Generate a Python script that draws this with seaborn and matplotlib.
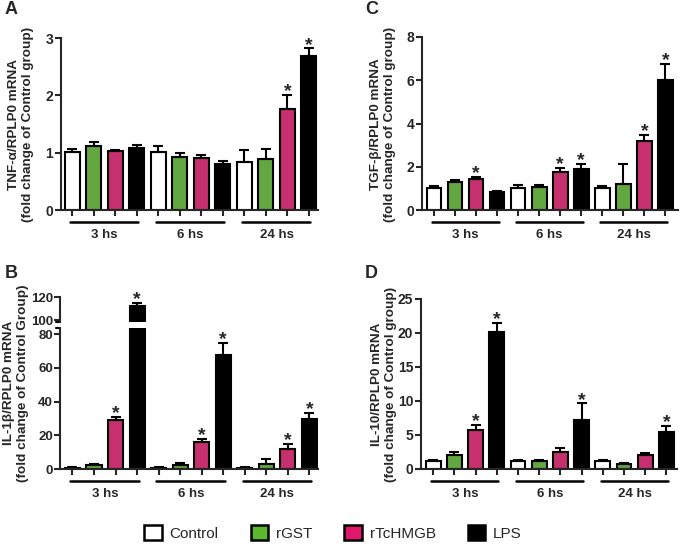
import numpy as np
import pandas as pd
import matplotlib
matplotlib.use('Agg')
import matplotlib.pyplot as plt
from matplotlib.patches import Patch
import seaborn as sns

# data (mean and upper error, 3 time points x 4 treatments)
groups = ['3 hs', '6 hs', '24 hs']
treatments = ['Control', 'rGST', 'rTcHMGB', 'LPS']
colors = {'Control': 'white', 'rGST': '#5cb82e', 'rTcHMGB': '#e0176b', 'LPS': 'black'}

tnf_mean = [1.01, 1.11, 1.03, 1.08, 1.01, 0.92, 0.90, 0.80, 0.84, 0.89, 1.76, 2.69]
tnf_err = [0.06, 0.07, 0.01, 0.05, 0.10, 0.07, 0.06, 0.06, 0.21, 0.17, 0.25, 0.13]
tnf_star = [0, 0, 0, 0, 0, 0, 0, 0, 0, 0, 1, 1]

tgf_mean = [1.03, 1.31, 1.43, 0.85, 1.03, 1.08, 1.78, 1.88, 1.03, 1.20, 3.18, 6.03]
tgf_err = [0.08, 0.07, 0.11, 0.04, 0.12, 0.07, 0.17, 0.27, 0.09, 0.95, 0.31, 0.74]
tgf_star = [0, 0, 1, 0, 0, 0, 1, 1, 0, 0, 1, 1]

il1_mean = [0.8, 2.4, 29.0, 112.5, 0.8, 2.4, 16.2, 67.6, 0.8, 3.2, 12.0, 29.4]
il1_err = [0.2, 0.6, 2.0, 2.4, 0.2, 1.2, 1.7, 7.1, 0.3, 2.5, 3.0, 3.9]
il1_star = [0, 0, 1, 1, 0, 0, 1, 1, 0, 0, 1, 1]

il10_mean = [1.13, 2.0, 5.8, 20.1, 1.13, 1.13, 2.46, 7.14, 1.13, 0.8, 2.1, 5.4]
il10_err = [0.15, 0.46, 0.65, 1.4, 0.15, 0.15, 0.64, 2.5, 0.15, 0.13, 0.26, 0.9]
il10_star = [0, 0, 1, 1, 0, 0, 0, 1, 0, 0, 0, 1]

sns.set_style('ticks')
plt.rcParams['font.family'] = ['Liberation Sans', 'DejaVu Sans']
plt.rcParams['font.weight'] = 'bold'

W, H = 685, 547
fig = plt.figure(figsize=(W / 100, H / 100), dpi=100)


def px_axes(left, top, width, height):
    return fig.add_axes([left / W, 1 - (top + height) / H, width / W, height / H])


def draw_bars(ax, mean, err, star, ylim):
    df = pd.DataFrame({'slot': range(12), 'value': mean,
                       'treatment': treatments * 3})
    sns.barplot(data=df, x='slot', y='value', hue='treatment', hue_order=treatments,
                palette=colors, dodge=False, width=0.7, edgecolor='black',
                linewidth=1.5, errorbar=None, legend=False, ax=ax)
    x = np.arange(12)
    ax.errorbar(x, mean, yerr=[np.zeros(12), err], fmt='none', ecolor='black',
                elinewidth=1.5, capsize=3.5, capthick=1.5, zorder=1)
    for i in range(12):
        top = mean[i] + err[i]
        if star[i] and ylim[0] <= top <= ylim[1]:
            ax.annotate('*', xy=(i, top), xytext=(0, -1), textcoords='offset points',
                        ha='center', va='baseline', fontsize=14, fontweight='bold',
                        annotation_clip=False)
    ax.set_ylim(*ylim)
    ax.set_xlabel('')
    ax.set_ylabel('')
    ax.set_xticks(range(12))
    ax.set_xticklabels([])
    for s in ['top', 'right']:
        ax.spines[s].set_visible(False)
    for s in ['left', 'bottom']:
        ax.spines[s].set_linewidth(1.5)
    ax.tick_params(width=1.5, length=4, pad=1.5, labelsize=10)


def add_groups(ax, ax_h):
    tr = ax.get_xaxis_transform()
    for g, name in enumerate(groups):
        ax.plot([g * 4 - 0.1, g * 4 + 3.07], [-12 / ax_h] * 2, color='black', lw=1.8,
                transform=tr, clip_on=False)
        ax.text(g * 4 + 1.5, -25 / ax_h, name, transform=tr, ha='center', va='center',
                fontsize=9.5, fontweight='bold')


# panel A
axA = px_axes(61, 38, 257, 172)
draw_bars(axA, tnf_mean, tnf_err, tnf_star, (0, 3))
axA.set_xlim(-0.53, 11.42)
axA.set_yticks([0, 1, 2, 3])
add_groups(axA, 172)

# panel C
axC = px_axes(422, 37, 256, 173)
draw_bars(axC, tgf_mean, tgf_err, tgf_star, (0, 8))
axC.set_xlim(-0.57, 11.6)
axC.set_yticks([0, 2, 4, 6, 8])
add_groups(axC, 173)

# panel B, broken y axis
axB1 = px_axes(60, 297, 258, 25)
draw_bars(axB1, il1_mean, il1_err, il1_star, (98.3, 120))
axB1.set_xlim(-0.58, 11.4)
axB1.set_yticks([100, 120])
axB1.spines['bottom'].set_visible(False)
axB1.tick_params(axis='x', bottom=False)

axB2 = px_axes(60, 328, 258, 141)
draw_bars(axB2, il1_mean, il1_err, il1_star, (0, 83.6))
axB2.set_xlim(-0.58, 11.4)
axB2.set_yticks([0, 20, 40, 60, 80])
add_groups(axB2, 141)
for ax in (axB1, axB2):
    ax.tick_params(axis='y', pad=1, labelsize=9.5)

# short caps on the spine ends at the break
for ax, y in [(axB1, 0), (axB2, 1)]:
    ax.plot([-4 / 258, 0], [y, y], color='black', lw=1.5,
            transform=ax.transAxes, clip_on=False)

# panel D
axD = px_axes(421, 299, 256, 170)
draw_bars(axD, il10_mean, il10_err, il10_star, (0, 25))
axD.set_xlim(-0.57, 11.5)
axD.set_yticks([0, 5, 10, 15, 20, 25])
add_groups(axD, 170)

# y labels
ylab = dict(rotation=90, ha='center', va='center', fontsize=9.7, fontweight='bold',
            multialignment='center', linespacing=1.2)
fig.text(21 / W, 1 - 124 / H, 'TNF-\u03b1/RPLP0 mRNA\n(fold change of Control group)', **ylab)
fig.text(383 / W, 1 - 124 / H, 'TGF-\u03b2/RPLP0 mRNA\n(fold change of Control group)', **ylab)
fig.text(16 / W, 1 - 383 / H, 'IL-1\u03b2/RPLP0 mRNA\n(fold change of Control Group)', **ylab)
fig.text(384 / W, 1 - 384 / H, 'IL-10/RPLP0 mRNA\n(fold change of Control group)', **ylab)

# panel letters
for letter, x, y in [('A', 5, 10), ('C', 365, 10), ('B', 5, 274), ('D', 365, 274)]:
    fig.text(x / W, 1 - y / H, letter, ha='left', va='center', fontsize=13, fontweight='bold')

handles = [Patch(facecolor=colors[t], edgecolor='black', linewidth=1.8, label=t)
           for t in treatments]
fig.legend(handles=handles, loc='center', bbox_to_anchor=(333 / W, 1 - 533 / H), ncol=4,
           frameon=False, handlelength=1.15, handleheight=1.15, columnspacing=2.1,
           handletextpad=0.5, prop={'size': 11, 'weight': 'normal'})

fig.savefig('out.png', dpi=100)
